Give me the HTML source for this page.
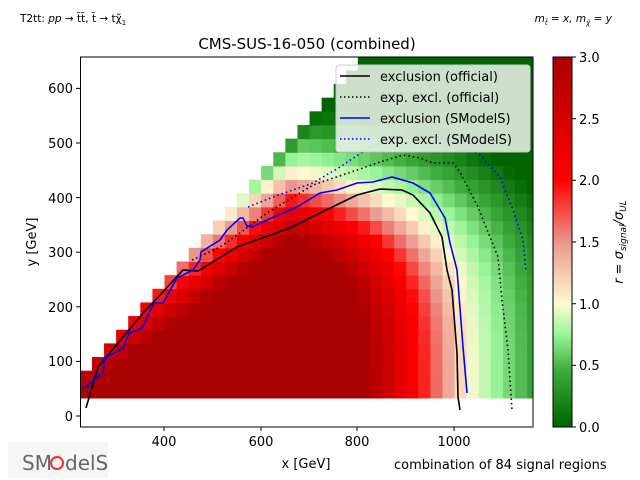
<!DOCTYPE html>
<html><head><meta charset="utf-8"><style>
body{margin:0;background:#fff;}
svg{display:block;font-family:"DejaVu Sans","Liberation Sans",sans-serif;}
</style></head><body>
<svg id="s" width="640" height="480" xmlns="http://www.w3.org/2000/svg">
<defs>
<linearGradient id="cb" x1="0" y1="1" x2="0" y2="0">
<stop offset="0" stop-color="#006400"/>
<stop offset="0.15" stop-color="#3caa3c"/>
<stop offset="0.25" stop-color="#98f598"/>
<stop offset="0.333" stop-color="#fffad2"/>
<stop offset="0.5" stop-color="#eb968c"/>
<stop offset="0.667" stop-color="#ff0000"/>
<stop offset="1" stop-color="#aa0000"/>
</linearGradient>
<clipPath id="ax"><rect x="80.5" y="57" width="452.5" height="370"/></clipPath>
</defs>
<g id="cells" clip-path="url(#ax)"></g>
<g clip-path="url(#ax)" fill="none" stroke-width="1.6">
<polyline stroke="#000" points="86,408 98,367 143,313 162,293 183,270 198,271 237,247 290,228 320,213 357,195 380,189 402,190 413,195 430,213 442,237 447,270 452,290 457,353 458,397 460,410"/>
<polyline stroke="#00f" points="83,388 87,386 103,372 105,358 123,348 129,333 142,328 154,303 163,303 177,278 193,270 200,260 201,252 220,240 227,230 240,218 243,218 247,226 252,227 267,220 297,207 320,193 337,190 357,183 373,182 392,177 413,183 430,193 445,218 450,243 457,270 463,347 467,393"/>
<polyline stroke="#000" stroke-dasharray="1.5,3" points="192,260 220,247 240,233 267,213 313,185 357,170 380,162 403,155 420,158 433,163 453,163 460,172 478,207 498,257 502,300 508,350 512,410"/>
<polyline stroke="#00f" stroke-dasharray="1.5,3" points="248,207 273,197 313,183 340,167 370,147 413,133 450,140 480,155 500,177 513,210 523,240 526,272"/>
</g>
<rect x="80.5" y="57" width="452.5" height="370" fill="none" stroke="#000" stroke-width="1"/>
<rect x="336" y="65" width="194" height="87" rx="3" fill="#fff" fill-opacity="0.8" stroke="#ccc" stroke-width="1"/>
<g font-size="13" fill="#000">
<line x1="340" y1="76" x2="370" y2="76" stroke="#000" stroke-width="1.6"/><text x="380" y="81">exclusion (official)</text>
<line x1="340" y1="97" x2="370" y2="97" stroke="#000" stroke-width="1.6" stroke-dasharray="1.5,2.5"/><text x="380" y="102">exp. excl. (official)</text>
<line x1="340" y1="118" x2="370" y2="118" stroke="#00f" stroke-width="1.6"/><text x="380" y="123">exclusion (SModelS)</text>
<line x1="340" y1="139" x2="370" y2="139" stroke="#00f" stroke-width="1.6" stroke-dasharray="1.5,2.5"/><text x="380" y="144">exp. excl. (SModelS)</text>
</g>
<g stroke="#000" stroke-width="1">
<line x1="164" y1="427" x2="164" y2="431"/><line x1="261" y1="427" x2="261" y2="431"/><line x1="357" y1="427" x2="357" y2="431"/><line x1="454" y1="427" x2="454" y2="431"/>
<line x1="76" y1="416" x2="80.5" y2="416"/><line x1="76" y1="361.4" x2="80.5" y2="361.4"/><line x1="76" y1="306.8" x2="80.5" y2="306.8"/><line x1="76" y1="252.2" x2="80.5" y2="252.2"/><line x1="76" y1="197.6" x2="80.5" y2="197.6"/><line x1="76" y1="143" x2="80.5" y2="143"/><line x1="76" y1="88.4" x2="80.5" y2="88.4"/>
</g>
<g font-size="13" fill="#000" text-anchor="middle">
<text x="164" y="446">400</text><text x="261" y="446">600</text><text x="357" y="446">800</text><text x="454" y="446">1000</text>
<text x="306" y="468">x [GeV]</text>
<text x="307" y="49" font-size="15">CMS-SUS-16-050 (combined)</text>
</g>
<g font-size="13" fill="#000" text-anchor="end">
<text x="73" y="421">0</text><text x="73" y="366">100</text><text x="73" y="312">200</text><text x="73" y="257">300</text><text x="73" y="203">400</text><text x="73" y="148">500</text><text x="73" y="93">600</text>
</g>
<text transform="translate(36,242) rotate(-90)" font-size="13" text-anchor="middle">y [GeV]</text>
<rect x="553" y="57" width="19" height="370" fill="url(#cb)" stroke="#000" stroke-width="1"/>
<g stroke="#000"><line x1="572" y1="57" x2="576" y2="57"/><line x1="572" y1="118.7" x2="576" y2="118.7"/><line x1="572" y1="180.3" x2="576" y2="180.3"/><line x1="572" y1="242" x2="576" y2="242"/><line x1="572" y1="303.7" x2="576" y2="303.7"/><line x1="572" y1="365.3" x2="576" y2="365.3"/><line x1="572" y1="427" x2="576" y2="427"/></g>
<g font-size="13"><text x="579" y="62">3.0</text><text x="579" y="124">2.5</text><text x="579" y="185">2.0</text><text x="579" y="247">1.5</text><text x="579" y="309">1.0</text><text x="579" y="370">0.5</text><text x="579" y="432">0.0</text></g>
<text transform="translate(623,242) rotate(-90)" font-size="13" text-anchor="middle" font-style="italic">r = σ<tspan font-size="9" dy="3">signal</tspan><tspan dy="-3">/σ</tspan><tspan font-size="9" dy="3">UL</tspan></text>
<text x="20" y="22" font-size="10.5">T2tt: <tspan font-style="italic">pp</tspan> → t̃t̃, t̃ → tχ̃<tspan font-size="7" dy="3">1</tspan></text>
<text x="612" y="22" font-size="10.5" text-anchor="end" font-style="italic">m<tspan font-size="7" dy="3">t̃</tspan><tspan dy="-3"> = x, m</tspan><tspan font-size="7" dy="3">χ̃</tspan><tspan dy="-3"> = y</tspan></text>
<text x="394" y="469" font-size="13">combination of 84 signal regions</text>
<g><rect x="8" y="442" width="100" height="36" fill="#eee" opacity="0.5"/><text x="22" y="470" font-size="20" fill="#666">SM</text><circle cx="57" cy="463" r="6" fill="none" stroke="#e33" stroke-width="2"/><text x="65" y="470" font-size="20" fill="#666">delS</text></g>
</svg>
<script>
(function(){
var g=document.getElementById('cells'),ns='http://www.w3.org/2000/svg';
var st=[[0,[0,100,0]],[0.45,[60,170,60]],[0.75,[152,245,152]],[1,[255,250,210]],[1.5,[235,150,140]],[2,[255,0,0]],[3,[170,0,0]]];
function col(r){r=Math.max(0,Math.min(3,r));for(var i=1;i<st.length;i++){if(r<=st[i][0]){var a=st[i-1],b=st[i],t=(r-a[0])/(b[0]-a[0]);return 'rgb('+[0,1,2].map(function(k){return Math.round(a[1][k]+(b[1][k]-a[1][k])*t)}).join(',')+')';}}return 'rgb(170,0,0)';}
function R(x,y){var s=Math.pow(Math.pow(x/1030,4)+Math.pow(y/470,4),0.25);var r=s<1?1+(1-s)*10:1-(s-1)*4.5;var d=x-y-150;var rd=3.0-0.0057*y+0.01*Math.max(0,d);return Math.min(r,rd);}
function px(x){return 164+(x-400)*0.4835;}function py(y){return 416-y*0.546;}
for(var x=226;x<1175;x+=25){for(var y=33;y<670;y+=25){var xc=x+12.5,yc=y+12.5;if(yc>xc-150)continue;var e=document.createElementNS(ns,'rect');var x0=px(x),x1=px(x+25),y0=py(y+25),y1=py(y);e.setAttribute('x',x0);e.setAttribute('y',y0);e.setAttribute('width',x1-x0+0.5);e.setAttribute('height',y1-y0+0.5);e.setAttribute('fill',col(R(xc,yc)));g.appendChild(e);}}
})();
</script>
</body></html>
